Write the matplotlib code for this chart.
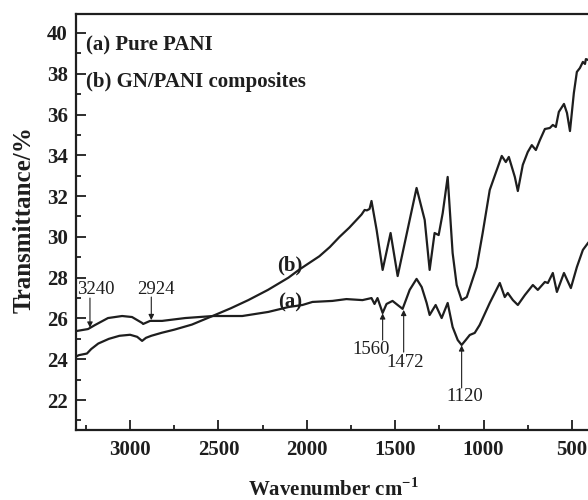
import matplotlib
matplotlib.use("Agg")
import matplotlib.pyplot as plt
from matplotlib.ticker import MultipleLocator

plt.rcParams['font.family'] = ['Liberation Serif', 'DejaVu Serif']
plt.rcParams['mathtext.fontset'] = 'custom'
plt.rcParams['mathtext.rm'] = 'Liberation Serif'
plt.rcParams['mathtext.bf'] = 'Liberation Serif:bold'

# curve (a) pure PANI
wn_a = [3306, 3238, 3198, 3125, 3045, 2989, 2932, 2926, 2887, 2819, 2688, 2529,
        2365, 2218, 2104, 2025, 1968, 1855, 1776, 1685, 1634, 1617, 1600, 1571,
        1549, 1515, 1486, 1458, 1418, 1379, 1350, 1322, 1305, 1271, 1237, 1203,
        1175, 1146, 1124, 1101, 1078, 1050, 1022, 965, 908, 880, 863, 834, 806,
        766, 721, 693, 653, 636, 608, 585, 545, 506, 472, 438, 409]
t_a = [25.38, 25.48, 25.68, 26.02, 26.12, 26.07, 25.78, 25.73, 25.88, 25.88, 26.02, 26.12,
       26.12, 26.32, 26.56, 26.66, 26.81, 26.86, 26.95, 26.90, 27.00, 26.71, 27.00, 26.27,
       26.71, 26.86, 26.66, 26.47, 27.40, 27.94, 27.54, 26.76, 26.17, 26.66, 26.02, 26.76,
       25.58, 24.94, 24.70, 24.94, 25.19, 25.29, 25.68, 26.76, 27.74, 27.05, 27.25, 26.90, 26.66,
       27.15, 27.64, 27.40, 27.79, 27.74, 28.23, 27.30, 28.23, 27.49, 28.52, 29.36, 29.70]

# curve (b) GN/PANI composites
wn_b = [3306, 3290, 3244, 3220, 3180, 3120, 3060, 3000, 2960, 2932, 2910, 2880,
        2860, 2820, 2750, 2650, 2528, 2430, 2331, 2220, 2104, 2042, 1990, 1929,
        1870, 1815, 1760, 1719, 1690, 1673, 1660, 1645, 1634, 1605, 1571, 1526,
        1486, 1418, 1379, 1333, 1305, 1277, 1254, 1231, 1203, 1175, 1152, 1124,
        1095, 1039, 1005, 965, 897, 874, 857, 823, 806, 778, 750, 727, 704, 681,
        653, 625, 608, 591, 574, 545, 528, 511, 489, 472, 455, 438, 426, 421, 409]
t_b = [24.13, 24.20, 24.28, 24.50, 24.77, 25.00, 25.15, 25.20, 25.10, 24.90, 25.05, 25.15,
       25.20, 25.30, 25.45, 25.70, 26.14, 26.50, 26.90, 27.40, 28.00, 28.40, 28.70, 29.05,
       29.50, 30.00, 30.45, 30.83, 31.10, 31.32, 31.30, 31.37, 31.76, 30.34, 28.38, 30.19,
       28.08, 30.83, 32.40, 30.83, 28.38, 30.19, 30.09, 31.17, 32.94, 29.21, 27.64, 26.90,
       27.05, 28.52, 30.19, 32.30, 33.97, 33.67, 33.92, 32.94, 32.25, 33.53, 34.16, 34.50, 34.26, 34.75,
       35.29, 35.34, 35.49, 35.39, 36.13, 36.52, 36.08, 35.19, 37.06, 38.09, 38.28, 38.58, 38.48, 38.72, 38.68]

# peak labels: (text, arrow x, arrow start y, arrow tip y, text x, text y)
peaks = [("3240", 3227, 27.0, 25.55, 3193, 27.4),
         ("2924", 2880, 27.05, 25.92, 2853, 27.4),
         ("1560", 1571, 24.94, 26.25, 1639, 24.5),
         ("1472", 1452, 24.35, 26.42, 1441, 23.82),
         ("1120", 1124, 22.59, 24.68, 1107, 22.15)]

x_major = [3000, 2500, 2000, 1500, 1000, 500]
y_major = [22, 24, 26, 28, 30, 32, 34, 36, 38, 40]

ink = '#1e1e1e'
fig = plt.figure(figsize=(5.88, 5.0), dpi=100)
ax = fig.add_axes([76 / 588, 70 / 500, 512 / 588, 416 / 500])

ax.plot(wn_a, t_a, color=ink, lw=1.6, solid_joinstyle='round')
ax.plot(wn_b, t_b, color=ink, lw=1.6, solid_joinstyle='round')

ax.set_xlim(3306, 409)
ax.set_ylim(20.53, 40.93)
ax.set_xticks(x_major)
ax.set_yticks(y_major)
ax.xaxis.set_minor_locator(MultipleLocator(250))
ax.yaxis.set_minor_locator(MultipleLocator(1))
ax.tick_params(which='both', direction='in', top=False, right=False,
               color=ink, width=1.3)
ax.tick_params(which='major', length=7)
ax.tick_params(which='minor', length=3.5)
ax.tick_params(axis='x', which='major', pad=7)
ax.tick_params(axis='y', which='major', pad=6)
for lab in ax.get_xticklabels() + ax.get_yticklabels():
    lab.set_fontsize(15)
    lab.set_fontweight('bold')
    lab.set_color(ink)

for side in ['left', 'bottom', 'top']:
    ax.spines[side].set_linewidth(1.6)
    ax.spines[side].set_color(ink)
ax.spines['right'].set_visible(False)

ax.set_xlabel(r'Wavenumber cm$^{\mathbf{-1}}$', fontsize=15, fontweight='bold', color=ink)
ax.set_ylabel('Transmittance/%', fontsize=18, fontweight='bold', color=ink)
ax.xaxis.set_label_coords(0.503, -0.115)
ax.yaxis.set_label_coords(-0.078, 0.505)

for txt, ax_x, y0, y1, tx, ty in peaks:
    ax.annotate('', xy=(ax_x, y1), xytext=(ax_x, y0),
                arrowprops=dict(arrowstyle='-|>', color=ink, lw=0.8,
                                mutation_scale=8, shrinkA=0, shrinkB=0))
    ax.text(tx, ty, txt, fontsize=13.5, ha='center', va='center', color=ink)

ax.text(2093, 26.76, '(a)', fontsize=15, fontweight='bold', ha='center', va='center', color=ink)
ax.text(2099, 28.62, '(b)', fontsize=15, fontweight='bold', ha='center', va='center', color=ink)

ax.text(0.02, 39.41, '(a) Pure PANI', transform=ax.get_yaxis_transform(),
        fontsize=15, fontweight='bold', ha='left', va='center', color=ink)
ax.text(0.02, 37.6, '(b) GN/PANI composites', transform=ax.get_yaxis_transform(),
        fontsize=15, fontweight='bold', ha='left', va='center', color=ink)

fig.savefig('out.png', dpi=100)
